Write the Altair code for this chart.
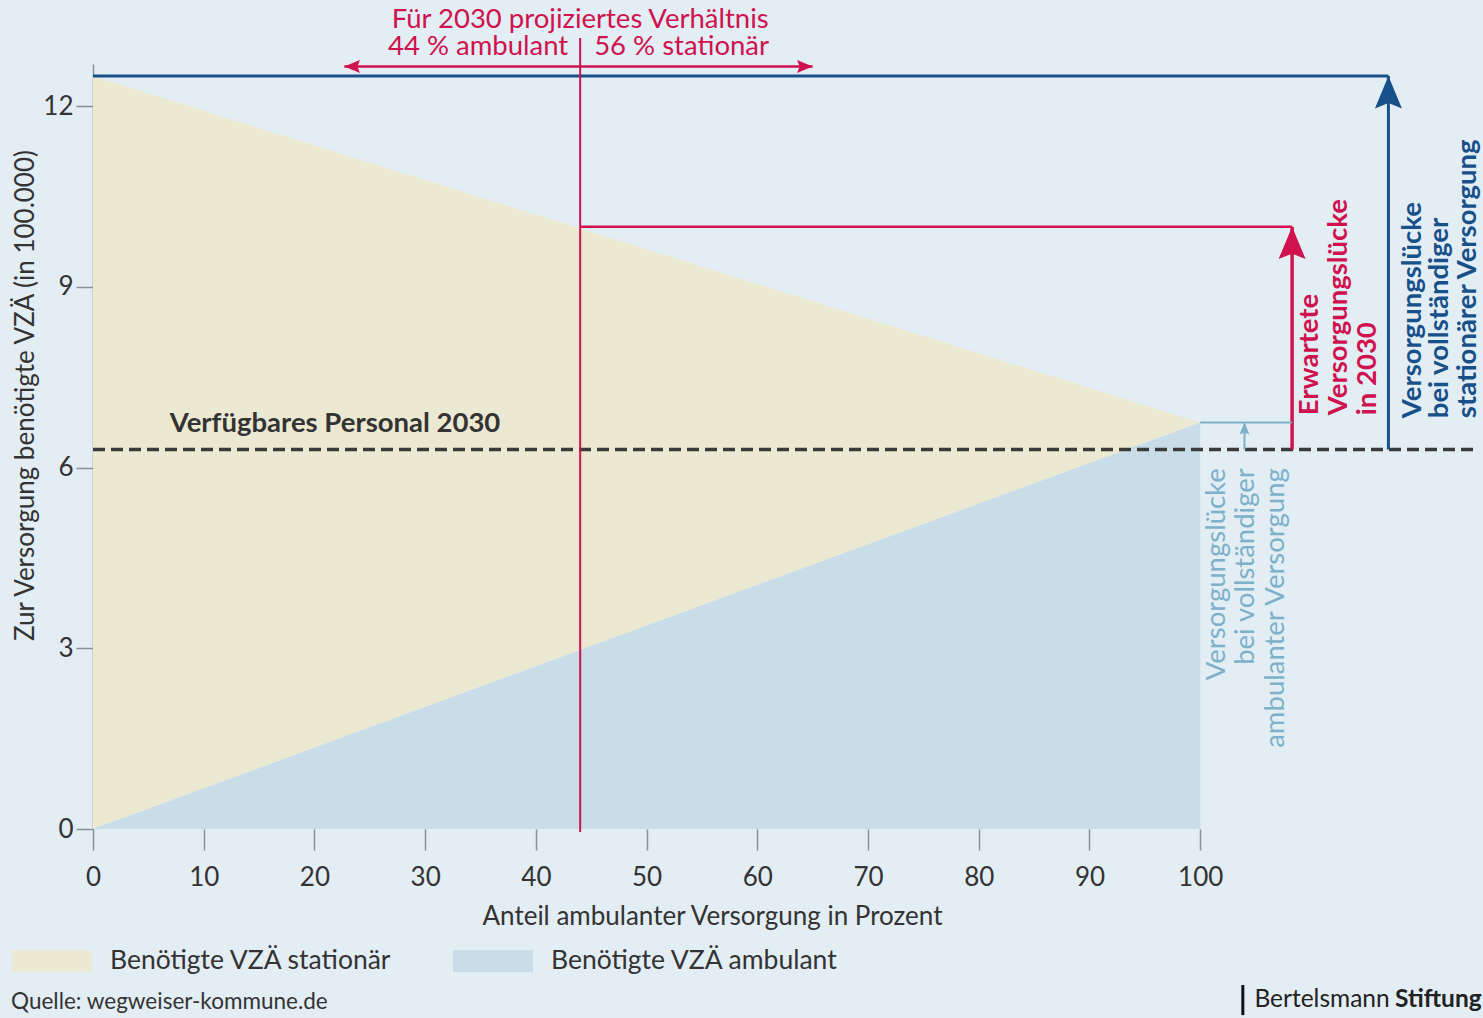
import altair as alt
import pandas as pd

# ---------------- data ----------------
share_x = [0, 100]                      # Anteil ambulanter Versorgung (%)
need_total = [12.5, 6.75]               # top edge (stationär + ambulant need), in 100.000 VZÄ
need_amb = [0.0, 6.75]                  # ambulant need
available_2030 = 6.3                    # Verfügbares Personal 2030
projected_share = 44                    # projected ambulant share 2030
expected_need = 10.0                    # need at projected share
x_ticks = [0, 10, 20, 30, 40, 50, 60, 70, 80, 90, 100]
y_ticks = [0, 3, 6, 9, 12]
series_names = ["Benötigte VZÄ stationär", "Benötigte VZÄ ambulant"]
series_colors = ["#ece9d3", "#c9dde8"]

# annotation anchors (data units)
gap_amb_x = 104
gap_exp_x = 108.3
gap_stat_x = 117
ratio_arrow = [22.7, 65]
ratio_arrow_y = 12.66

BG = "#e2edf4"
RED = "#d0124e"
DBLUE = "#18508a"
LBLUE = "#7cb1c9"
DARK = "#333333"
GRAY = "#8a9096"
FONT = "Lato"
FS = 27.5

xs = alt.Scale(domain=[0, 125], nice=False, zero=False)
ys = alt.Scale(domain=[0, 12.7], nice=False, zero=False)

area_df = pd.DataFrame({
    "x": share_x + share_x,
    "lo": need_amb + [0.0, 0.0],
    "hi": need_total + need_amb,
    "series": [series_names[0]] * 2 + [series_names[1]] * 2,
})

areas = alt.Chart(area_df).mark_area(opacity=1).encode(
    x=alt.X("x:Q", scale=xs, axis=alt.Axis(
        values=x_ticks, format="d", domain=False, grid=False, tickColor=GRAY, tickSize=21,
        tickWidth=1.5, labelFontSize=26, labelColor=DARK, labelFont=FONT, labelPadding=14,
        labelFlush=False,
        title="Anteil ambulanter Versorgung in Prozent", titleFont=FONT, titleFontSize=26,
        titleFontWeight="normal", titleColor=DARK, titleX=619, titleY=87,
        titleAlign="center", titleBaseline="middle")),
    y=alt.Y("hi:Q", scale=ys, axis=alt.Axis(
        values=y_ticks, format="d", domain=True, domainColor=GRAY, domainWidth=1.5, grid=False,
        tickColor=GRAY, tickSize=17, tickWidth=1.5, labelFlush=False,
        labelFontSize=26, labelColor=DARK, labelFont=FONT, labelPadding=3,
        title="Zur Versorgung benötigte VZÄ (in 100.000)", titleFont=FONT, titleFontSize=26,
        titleFontWeight="normal", titleColor=DARK, titleX=-68, titleY=331, titleAngle=270,
        titleAlign="center", titleBaseline="middle")),
    y2="lo:Q",
    color=alt.Color("series:N", scale=alt.Scale(domain=series_names, range=series_colors),
                    legend=alt.Legend(orient="none", legendX=-81, legendY=857, direction="horizontal",
                                      title=None, symbolType="M-1,-0.275L1,-0.275L1,0.275L-1,0.275Z",
                                      symbolSize=6400, symbolStrokeWidth=0, symbolOpacity=1,
                                      labelFontSize=26.5, labelFont=FONT, labelColor=DARK, labelLimit=0,
                                      labelOffset=18, columnPadding=60, padding=0)),
)


def rules(rows, color, width, dash=None):
    df = pd.DataFrame(rows, columns=["x", "x2", "y", "y2"])
    kw = dict(color=color, strokeWidth=width)
    if dash:
        kw["strokeDash"] = dash
    return alt.Chart(df).mark_rule(**kw).encode(
        x=alt.X("x:Q", scale=xs), x2="x2:Q",
        y=alt.Y("y:Q", scale=ys), y2="y2:Q")


ARROW = "M0,0L1,2.4L0,2L-1,2.4Z"


def heads(rows, color, size, angle):
    df = pd.DataFrame(rows, columns=["x", "y"])
    return alt.Chart(df).mark_point(shape=ARROW, filled=True, size=size, angle=angle,
                                    color=color, opacity=1, strokeWidth=0).encode(
        x=alt.X("x:Q", scale=xs), y=alt.Y("y:Q", scale=ys))


def texts(rows, color, size, weight="normal", align="left", baseline="middle", angle=0, dx=0,
          line_height=None):
    df = pd.DataFrame(rows, columns=["x", "y", "t"])
    kw = dict(color=color, fontSize=size, font=FONT, fontWeight=weight, align=align,
              baseline=baseline, angle=angle, dx=dx, lineBreak="\n")
    if line_height:
        kw["lineHeight"] = line_height
    return alt.Chart(df).mark_text(**kw).encode(
        x=alt.X("x:Q", scale=xs), y=alt.Y("y:Q", scale=ys), text="t:N")


layers = [
    areas,
    # dashed available staff line
    rules([[0, 125, available_2030, available_2030]], "#3a3a3a", 3.5, [12, 6]),
    # full stationary gap (dark blue)
    rules([[0, gap_stat_x, need_total[0], need_total[0]],
           [gap_stat_x, gap_stat_x, available_2030, need_total[0]]], DBLUE, 3),
    # expected gap (red)
    rules([[projected_share, gap_exp_x, expected_need, expected_need]], RED, 2.5),
    rules([[gap_exp_x, gap_exp_x, available_2030, expected_need]], RED, 3.5),
    # ambulant gap (light blue)
    rules([[share_x[1], gap_exp_x, need_amb[1], need_amb[1]],
           [gap_amb_x, gap_amb_x, available_2030, need_amb[1]]], LBLUE, 2),
    # projected share vertical + double arrow
    rules([[projected_share, projected_share, -0.05, 13.13]], RED, 2),
    rules([[ratio_arrow[0], ratio_arrow[1], ratio_arrow_y, ratio_arrow_y]], RED, 2.5),
    heads([[gap_stat_x, need_total[0]]], DBLUE, 729, 0),
    heads([[gap_exp_x, expected_need]], RED, 729, 0),
    heads([[gap_amb_x, need_amb[1]]], LBLUE, 100, 0),
    heads([[ratio_arrow[0], ratio_arrow_y]], RED, 170, 270),
    heads([[ratio_arrow[1], ratio_arrow_y]], RED, 170, 90),
    # texts
    texts([[projected_share, 13.43, "Für 2030 projiziertes Verhältnis"]], RED, FS, align="center"),
    texts([[projected_share, 12.98, "44 % ambulant"]], RED, FS, align="right", dx=-12),
    texts([[projected_share, 12.98, "56 % stationär"]], RED, FS, align="left", dx=14),
    texts([[6.93, 6.72, "Verfügbares Personal 2030"]], DARK, FS, weight="bold"),
    texts([[101.5, 5.99, "Versorgungslücke\nbei vollständiger\nambulanter Versorgung"]], LBLUE, FS,
          align="right", angle=270, line_height=29.5),
    texts([[109.9, 6.87, "Erwartete\nVersorgungslücke\nin 2030"]], RED, FS, weight="bold",
          align="left", angle=270, line_height=29),
    texts([[119.2, 6.82, "Versorgungslücke\nbei vollständiger\nstationärer Versorgung"]], DBLUE, FS,
          weight="bold", align="left", angle=270, line_height=27.5),
    # footer
    texts([[-7.4, -2.87, "Quelle: wegweiser-kommune.de"]], DARK, 22.5),
    rules([[103.85, 103.85, -2.59, -3.09]], "#111111", 3),
    texts([[104.9, -2.84, "Bertelsmann"]], "#222222", 24.5),
    texts([[117.6, -2.84, "Stiftung"]], "#222222", 24.5, weight="bold"),
]

chart = alt.layer(*layers).properties(
    width=1384, height=765,
    autosize=alt.AutoSizeParams(type="none"),
    padding={"left": 93, "top": 64, "right": 6, "bottom": 189},
    background=BG,
).configure_view(stroke=None)

chart.save("out.html", embed_options={"renderer": "svg", "actions": False})
